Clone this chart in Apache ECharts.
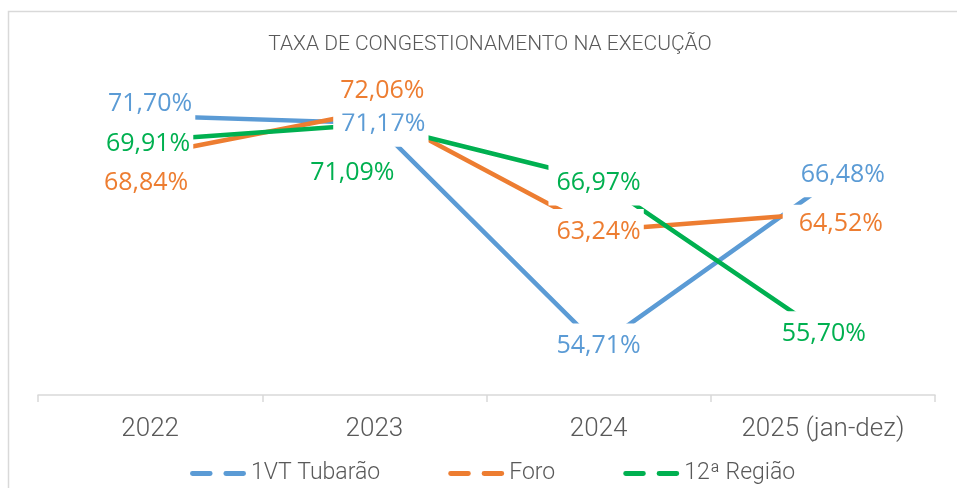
<!DOCTYPE html>
<html lang="pt">
<head>
	<meta charset="UTF-8">
	<title>Taxa de congestionamento na execução</title>
	<style>
		html,body{margin:0;padding:0;background:#fff;}
		#chart{width:957px;height:488px;}
	</style>
</head>
<body>
<div id="chart"></div>
<script src="https://cdn.jsdelivr.net/npm/echarts@6/dist/echarts.min.js"></script>
<script>
	// dados
	var categorias = ['2022', '2023', '2024', '2025 (jan-dez)'];
	var tubarao = [71.70, 71.17, 54.71, 66.48];
	var foro = [68.84, 72.06, 63.24, 64.52];
	var regiao = [69.91, 71.09, 66.97, 55.70];
	var nomes = ['1VT Tubarão', 'Foro', '12ª Região'];
	var cores = ['#5B9BD5', '#ED7D31', '#00B050'];

	// deslocamento dos rótulos (px) em relação ao ponto, como no Excel
	var desloc = [
		[[0, -13], [9, 0], [0, -1], [20, -13]],
		[[-4, 27], [8, -21], [0, 0], [18, 7]],
		[[-2, 3], [-22, 48], [0, 2], [1, 0]]
	];

	var chart = echarts.init(document.getElementById('chart'));

	// caixa branca do rótulo (esconde a linha como no Excel)
	var padPadrao = [14, 3, 6, 8];

	function montaSerie(i, valores){
		var dados = [];
		for(var k = 0; k < valores.length; k++){
			var pad = padPadrao;
			if(i == 1 && k == 3){
				pad = [8, 3, 6, 16];
			}
			// o padding desigual empurra o texto, compensa aqui
			var dx = desloc[i][k][0] - (pad[3] - pad[1]) / 2;
			var dy = desloc[i][k][1] + 5 - (pad[0] - pad[2]) / 2;
			dados.push({
				value: valores[k],
				label: {offset: [dx, dy], padding: pad}
			});
		}
		return {
			name: nomes[i],
			type: 'line',
			data: dados,
			symbol: 'circle',
			symbolSize: 0,
			showSymbol: true,
			color: cores[i],
			lineStyle: {color: cores[i], width: 4.5, cap: 'butt'},
			emphasis: {disabled: true},
			label: {
				show: true,
				position: 'inside',
				color: cores[i],
				fontFamily: 'Open Sans',
				fontSize: 25,
				backgroundColor: '#fff',
				formatter: function(p){
					return p.value.toFixed(2).replace('.', ',') + '%';
				}
			}
		};
	}

	var option = {
		animation: false,
		title: {
			text: 'TAXA DE CONGESTIONAMENTO NA EXECUÇÃO',
			left: 485,
			top: 29,
			textAlign: 'center',
			textStyle: {
				color: '#595959',
				fontFamily: 'Roboto',
				fontWeight: 300,
				fontSize: 21
			}
		},
		graphic: [{
			type: 'rect',
			shape: {x: 8.5, y: 11.5, width: 1000, height: 600},
			style: {fill: 'none', stroke: '#d9d9d9', lineWidth: 1.5},
			silent: true
		}],
		legend: {
			left: 185,
			top: 457,
			itemGap: 68,
			itemWidth: 56,
			itemHeight: 5,
			icon: 'path://M2,0h18a2,2 0 0 1 0,5h-18a2,2 0 0 1 0,-5z M36,0h18a2,2 0 0 1 0,5h-18a2,2 0 0 1 0,-5z',
			selectedMode: false,
			textStyle: {
				color: '#595959',
				fontFamily: 'Roboto',
				fontWeight: 300,
				fontSize: 23
			},
			data: nomes
		},
		grid: {
			left: 38,
			right: 22,
			top: 60,
			bottom: 93
		},
		xAxis: {
			type: 'category',
			boundaryGap: true,
			data: categorias,
			axisLine: {lineStyle: {color: '#d9d9d9', width: 1.5}},
			axisTick: {show: true, length: 7, lineStyle: {color: '#d9d9d9', width: 1.5}},
			axisLabel: {
				margin: 21,
				color: '#595959',
				fontFamily: 'Roboto',
				fontWeight: 300,
				fontSize: 26
			},
			splitLine: {show: false}
		},
		yAxis: {
			type: 'value',
			min: 51.1,
			max: 75.83,
			show: false,
			splitLine: {show: false}
		},
		series: [
			montaSerie(0, tubarao),
			montaSerie(1, foro),
			montaSerie(2, regiao)
		]
	};

	chart.setOption(option);
</script>
</body>
</html>
